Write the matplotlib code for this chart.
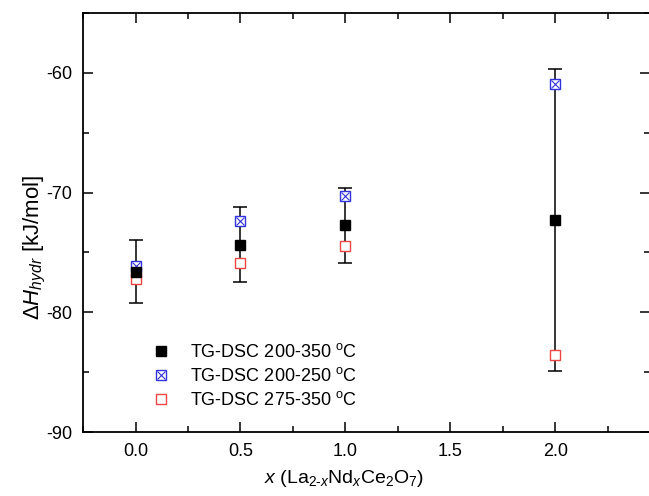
"""
Hydration enthalpy vs Nd content for La(2-x)Nd(x)Ce2O7, three TG-DSC
temperature windows. Only the full-range series carries error bars.
"""
import matplotlib
matplotlib.use("Agg")
import matplotlib.pyplot as plt  # noqa: E402
from matplotlib.ticker import MultipleLocator  # noqa: E402

x_vals = [0.0, 0.5, 1.0, 2.0]
dh_200_350 = [-76.6, -74.35, -72.75, -72.3]
dh_200_350_err = [2.65, 3.1, 3.15, 12.6]
dh_200_250 = [-76.1, -72.35, -70.3, -60.95]
dh_275_350 = [-77.2, -75.85, -74.5, -83.6]

labels = ["TG-DSC 200-350 $^{\\mathrm{o}}$C",
          "TG-DSC 200-250 $^{\\mathrm{o}}$C",
          "TG-DSC 275-350 $^{\\mathrm{o}}$C"]

plt.rcParams["font.family"] = ["Liberation Sans", "DejaVu Sans"]
plt.rcParams["mathtext.fontset"] = "custom"
plt.rcParams["mathtext.rm"] = "Liberation Sans"
plt.rcParams["mathtext.it"] = "Liberation Sans:italic"

fig = plt.figure(figsize=(6.49, 4.96), dpi=100)
ax = fig.add_axes([0.128, 0.129, 0.873, 0.845])

ax.errorbar(x_vals, dh_200_350, yerr=dh_200_350_err, fmt="none",
            ecolor="black", elinewidth=1.1, capsize=5, capthick=1.1, zorder=2)
h1, = ax.plot(x_vals, dh_200_350, ls="none", marker="s", ms=7.2,
              mfc="black", mec="black", zorder=4)
h2a, = ax.plot(x_vals, dh_200_250, ls="none", marker="s", ms=7.2,
               mfc="white", mec="#3333dd", mew=1.0, zorder=3)
h2b, = ax.plot(x_vals, dh_200_250, ls="none", marker="x", ms=5.5,
               mec="#3333dd", mew=0.8, zorder=3)
h3, = ax.plot(x_vals, dh_275_350, ls="none", marker="s", ms=7.2,
              mfc="white", mec="#ee4444", mew=1.0, zorder=3)

ax.legend([h1, (h2a, h2b), h3], labels, loc="lower left",
          bbox_to_anchor=(0.09, 0.015), frameon=False, fontsize=13,
          handlelength=1.2, handletextpad=1.0, labelspacing=0.35)

ax.set_xlim(-0.25, 2.45)
ax.set_ylim(-90, -55)
ax.xaxis.set_major_locator(MultipleLocator(0.5))
ax.xaxis.set_minor_locator(MultipleLocator(0.25))
ax.yaxis.set_major_locator(MultipleLocator(10))
ax.yaxis.set_minor_locator(MultipleLocator(5))
ax.xaxis.set_major_formatter(lambda v, p: f"{v:.1f}")
ax.yaxis.set_major_formatter(lambda v, p: f"{v:.0f}")
ax.tick_params(which="both", direction="in", top=True, right=True,
               width=1.1, labelsize=13, pad=8)
ax.tick_params(which="major", length=7)
ax.tick_params(which="minor", length=4)
for sp in ax.spines.values():
    sp.set_linewidth(1.3)

ax.set_ylabel("$\\Delta\\mathit{H}_{\\mathit{hydr}}$ [kJ/mol]", fontsize=16)
ax.yaxis.set_label_coords(-0.062, 0.44)
ax.set_xlabel("$\\mathit{x}$ (La$_{2\\text{-}\\mathit{x}}$Nd$_{\\mathit{x}}$"
              "Ce$_2$O$_7$)", fontsize=14)
ax.xaxis.set_label_coords(0.46, -0.085)

fig.savefig("out.png", dpi=100)
